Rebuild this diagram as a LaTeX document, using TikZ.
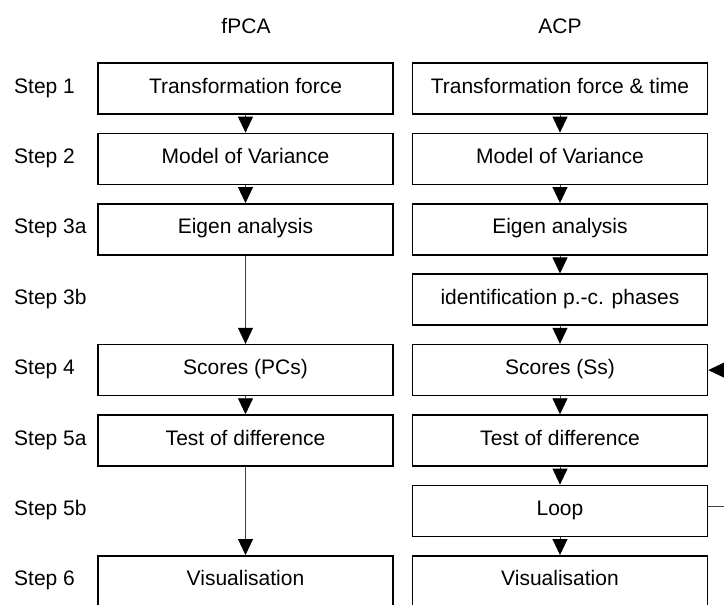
\documentclass[tikz,border=0pt]{standalone}
\usepackage{fontspec}
\setmainfont{Liberation Sans}
\usetikzlibrary{arrows.meta}
\begin{document}
\begin{tikzpicture}[x=1pt,y=-1pt,
  every node/.style={font=\fontsize{21}{25}\selectfont, text height=15pt, text depth=6pt, inner sep=0pt},
  stepbox/.style={draw, line width=1.5pt, minimum width=295pt, minimum height=51pt},
  steplabel/.style={anchor=west},
  header/.style={text depth=0pt},
  conn/.style={draw=black!75, line width=0.9pt, -{Triangle[width=15pt,length=16pt,color=black,fill=black]}}
]
\useasboundingbox (0,0) rectangle (724,605);
\clip (0,0) rectangle (724,605);
% headers
\node[header] (hL) at (246,26.5) {fPCA};
\node[header] (hR) at (560,26.5) {ACP};
% step labels
\node[steplabel] (s1) at (14,88.5) {Step 1};
\node[steplabel] (s2) at (14,158.9) {Step 2};
\node[steplabel] (s3a) at (14,229.3) {Step 3a};
\node[steplabel] (s3b) at (14,299.7) {Step 3b};
\node[steplabel] (s4) at (14,370.1) {Step 4};
\node[steplabel] (s5a) at (14,440.5) {Step 5a};
\node[steplabel] (s5b) at (14,510.9) {Step 5b};
\node[steplabel] (s6) at (14,581.3) {Step 6};
% left column
\node[stepbox] (L1) at (245.5,88.5) {Transformation force};
\node[stepbox] (L2) at (245.5,158.9) {Model of Variance};
\node[stepbox] (L3) at (245.5,229.3) {Eigen analysis};
\node[stepbox] (L4) at (245.5,370.1) {Scores (PCs)};
\node[stepbox] (L5) at (245.5,440.5) {Test of difference};
\node[stepbox] (L6) at (245.5,581.3) {Visualisation};
% right column
\node[stepbox] (R1) at (560,88.5) {Transformation force \& time};
\node[stepbox] (R2) at (560,158.9) {Model of Variance};
\node[stepbox] (R3) at (560,229.3) {Eigen analysis};
\node[stepbox] (R4) at (560,299.7) {identification p.-c. phases};
\node[stepbox] (R5) at (560,370.1) {Scores (Ss)};
\node[stepbox] (R6) at (560,440.5) {Test of difference};
\node[stepbox] (R7) at (560,510.9) {Loop};
\node[stepbox] (R8) at (560,581.3) {Visualisation};
% connectors left
\draw[conn] (L1) -- (L2);
\draw[conn] (L2) -- (L3);
\draw[conn] (L3) -- (L4);
\draw[conn] (L4) -- (L5);
\draw[conn] (L5) -- (L6);
% connectors right
\draw[conn] (R1) -- (R2);
\draw[conn] (R2) -- (R3);
\draw[conn] (R3) -- (R4);
\draw[conn] (R4) -- (R5);
\draw[conn] (R5) -- (R6);
\draw[conn] (R6) -- (R7);
\draw[conn] (R7) -- (R8);
% loop back
\coordinate (loopx) at (745,440);
\draw[conn] ([yshift=4pt]R7.east) -| (loopx) |- (R5.east);
\end{tikzpicture}
\end{document}
